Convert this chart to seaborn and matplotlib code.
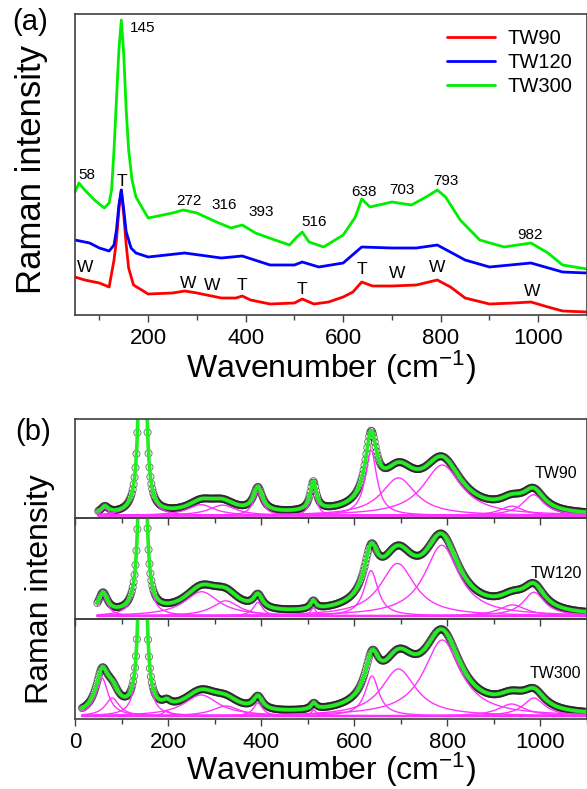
import numpy as np
import pandas as pd
import matplotlib
matplotlib.use("Agg")
import matplotlib.pyplot as plt
import seaborn as sns
from matplotlib.ticker import MultipleLocator

sns.set_theme(style="white")
plt.rcParams["font.family"] = ["Liberation Sans", "DejaVu Sans"]
plt.rcParams["mathtext.fontset"] = "custom"
plt.rcParams["mathtext.rm"] = "Liberation Sans"
plt.rcParams["mathtext.it"] = "Liberation Sans:italic"
plt.rcParams["mathtext.bf"] = "Liberation Sans:bold"
plt.rcParams["text.color"] = "black"
plt.rcParams["xtick.color"] = "black"
plt.rcParams["axes.labelcolor"] = "black"

wn_tw90 = [50, 70, 100, 120, 130, 135, 140, 145, 150, 155, 160, 170, 200, 250, 275, 300, 350,
           380, 393, 410, 450, 500, 516, 540, 570, 600, 620, 638, 660, 700, 750, 793, 820,
           850, 900, 950, 985, 1020, 1050, 1100]
int_tw90 = [38, 35, 32, 28, 55, 75, 105, 125, 100, 70, 47, 30, 21, 22, 24, 22, 17,
            17, 19, 15, 11, 12, 16, 11, 13, 18, 23, 33, 29, 29, 30, 35, 28,
            17, 11, 12, 13, 8, 4, 3]

wn_tw120 = [50, 80, 100, 120, 130, 135, 140, 145, 150, 155, 165, 175, 200, 275, 350, 393,
            450, 500, 516, 550, 600, 638, 700, 750, 793, 850, 900, 985, 1050, 1100]
int_tw120 = [75, 72, 67, 64, 70, 85, 110, 125, 105, 83, 67, 62, 58, 62, 57, 59,
             50, 50, 53, 48, 52, 68, 67, 67, 70, 55, 48, 52, 43, 42]

wn_tw300 = [50, 58, 70, 90, 110, 120, 125, 130, 135, 140, 145, 150, 155, 160, 167, 175, 200,
            250, 272, 300, 340, 370, 393, 420, 460, 490, 505, 516, 530, 560, 600, 625, 638,
            655, 700, 740, 770, 793, 810, 840, 880, 930, 985, 1020, 1050, 1100]
int_tw300 = [123, 132, 125, 115, 107, 112, 125, 165, 215, 265, 295, 260, 205, 165, 135, 118, 97,
             102, 105, 102, 93, 87, 90, 82, 75, 70, 78, 83, 73, 68, 80, 98, 116,
             108, 113, 110, 118, 125, 118, 95, 75, 68, 72, 62, 50, 46]

series_names = ["TW90", "TW120", "TW300"]
series_colors = ["#FF0000", "#0000FF", "#00EE00"]

peak_labels = ["145", "58", "272", "316", "393", "516", "638", "703", "793", "982"]
peak_label_x = [188, 75, 283, 356, 431, 540, 642, 721, 811, 983]
peak_label_y = [287, 140, 114, 110, 103, 93, 123, 125, 134, 80]

mode_labels = ["T", "W", "W", "W", "T", "T", "T", "W", "W", "W"]
mode_label_x = [146, 70, 282, 331, 392, 515, 638, 710, 793, 987]
mode_label_y = [133, 48, 32, 30, 29, 25, 45, 41, 48, 23]

# ---------------- Panel (b): fitted peak parameters ----------------
fit_names = ["TW90", "TW120", "TW300"]
fit_start = [50, 48, 15]
fit_baseline = [2.5, 3.0, 3.0]

centers_tw90 = [64, 145, 271, 317, 393, 512, 636, 695, 789, 938, 985]
heights_tw90 = [7, 700, 11, 10.5, 24, 29, 66, 38, 51, 9.5, 21]
hwhm_tw90 = [10, 4, 35, 35, 12, 8, 15, 45, 50, 30, 28]

centers_tw120 = [60, 145, 272, 324, 393, 512, 636, 693, 788, 940, 986]
heights_tw120 = [20, 700, 24, 15, 13.5, 8, 45, 52, 70, 11, 23.5]
hwhm_tw120 = [12, 4, 45, 35, 12, 7, 18, 45, 45, 35, 28]

centers_tw300 = [58, 80, 145, 197, 271, 324, 393, 513, 638, 695, 789, 938, 986]
heights_tw300 = [38, 18, 700, 5, 21, 10, 13, 6, 40, 47, 76, 12, 18]
hwhm_tw300 = [16, 18, 4, 10, 45, 35, 12, 7, 18, 45, 48, 35, 28]

fit_centers = [centers_tw90, centers_tw120, centers_tw300]
fit_heights = [heights_tw90, heights_tw120, heights_tw300]
fit_hwhm = [hwhm_tw90, hwhm_tw120, hwhm_tw300]

# ---------------- Figure ----------------
W, H = 587, 789
fig = plt.figure(figsize=(W / 100, H / 100), dpi=100)
fig.patch.set_facecolor("white")

spine_col = "#404040"

def style_axis(ax):
    for s in ax.spines.values():
        s.set_color(spine_col)
        s.set_linewidth(1.2)
    ax.set_yticks([])
    ax.xaxis.set_major_locator(MultipleLocator(200))
    ax.xaxis.set_minor_locator(MultipleLocator(100))
    ax.tick_params(axis="x", which="major", direction="out", length=5, width=1,
                   color=spine_col, labelsize=16, labelcolor="black", pad=4,
                   bottom=True, top=False)
    ax.tick_params(axis="x", which="minor", direction="out", length=3.5, width=1,
                   color=spine_col, bottom=True, top=False)
    ax.set_xlabel("")
    ax.set_ylabel("")

# Panel (a)
axa = fig.add_axes([75 / W, 1 - 315 / H, 512 / W, 301 / H])
df_a = pd.concat([
    pd.DataFrame({"wn": wn_tw90, "I": int_tw90, "sample": "TW90"}),
    pd.DataFrame({"wn": wn_tw120, "I": int_tw120, "sample": "TW120"}),
    pd.DataFrame({"wn": wn_tw300, "I": int_tw300, "sample": "TW300"}),
])
for name, col in zip(series_names, series_colors):
    d = df_a[df_a["sample"] == name]
    sns.lineplot(data=d, x="wn", y="I", color=col, lw=2.0, ax=axa, label=name,
                 estimator=None, sort=False)
axa.set_xlim(50, 1100)
axa.set_ylim(0, 301)
style_axis(axa)
for t, x, y in zip(peak_labels, peak_label_x, peak_label_y):
    axa.text(x, y, t, ha="center", va="center", fontsize=11, color="black")
for t, x, y in zip(mode_labels, mode_label_x, mode_label_y):
    axa.text(x, y, t, ha="center", va="center", fontsize=12.5, color="black")
leg = axa.legend(loc="upper right", frameon=False, fontsize=14.5, handlelength=2.4,
                 handletextpad=0.6, labelspacing=0.25, borderaxespad=0.35)
for line in leg.get_lines():
    line.set_linewidth(2.0)
for txt in leg.get_texts():
    txt.set_color("black")

fig.text(30 / W, 1 - 22 / H, "(a)", fontsize=21, ha="center", va="center")
fig.text(32 / W, 1 - 170 / H, "Raman intensity", fontsize=25, rotation=90,
         ha="center", va="center")
fig.text(331 / W, 1 - 368 / H, r"Wavenumber (cm$^{\mathregular{-1}}$)", fontsize=23,
         ha="center", va="center")

# Panel (b)
tops = [419, 518, 619]
bottoms = [518, 619, 719]
axes_b = []
for i in range(3):
    ax = fig.add_axes([75 / W, 1 - bottoms[i] / H, 512 / W, (bottoms[i] - tops[i]) / H])
    ax.patch.set_alpha(0)
    axes_b.append(ax)

for i, ax in enumerate(axes_b):
    x = np.arange(fit_start[i], 1101, 1.0)
    base = np.full_like(x, fit_baseline[i])
    comps = []
    for c, h, g in zip(fit_centers[i], fit_heights[i], fit_hwhm[i]):
        comps.append(h / (1 + ((x - c) / g) ** 2))
    total = base + np.sum(comps, axis=0)
    # baseline and components
    sns.lineplot(x=x, y=base, color="#FF33FF", lw=1.8, ax=ax, estimator=None, sort=False)
    for comp in comps:
        sns.lineplot(x=x, y=base + comp, color="#FF33FF", lw=1.0, ax=ax,
                     estimator=None, sort=False)
    # measured points (open circles)
    xs = x[::2]
    ys = total[::2]
    sns.scatterplot(x=xs, y=ys, ax=ax, s=26, facecolor="none", edgecolor="#222222",
                    linewidth=0.7, alpha=0.6, marker="o")
    sns.lineplot(x=x, y=total, color="#22EE22", lw=2.6, ax=ax, estimator=None, sort=False)
    ax.set_xlim(0, 1100)
    ax.set_ylim(0, 100)
    style_axis(ax)
    if i < 2:
        ax.tick_params(axis="x", labelbottom=False)
    ax.text(1033, 45, fit_names[i], ha="center", va="center", fontsize=11.5, color="black")

fig.text(33 / W, 1 - 432 / H, "(b)", fontsize=21, ha="center", va="center")
fig.text(40 / W, 1 - 589 / H, "Raman intensity", fontsize=23, rotation=90,
         ha="center", va="center")
fig.text(331 / W, 1 - 770 / H, r"Wavenumber (cm$^{\mathregular{-1}}$)", fontsize=23,
         ha="center", va="center")

fig.savefig("out.png", dpi=100, facecolor="white")
